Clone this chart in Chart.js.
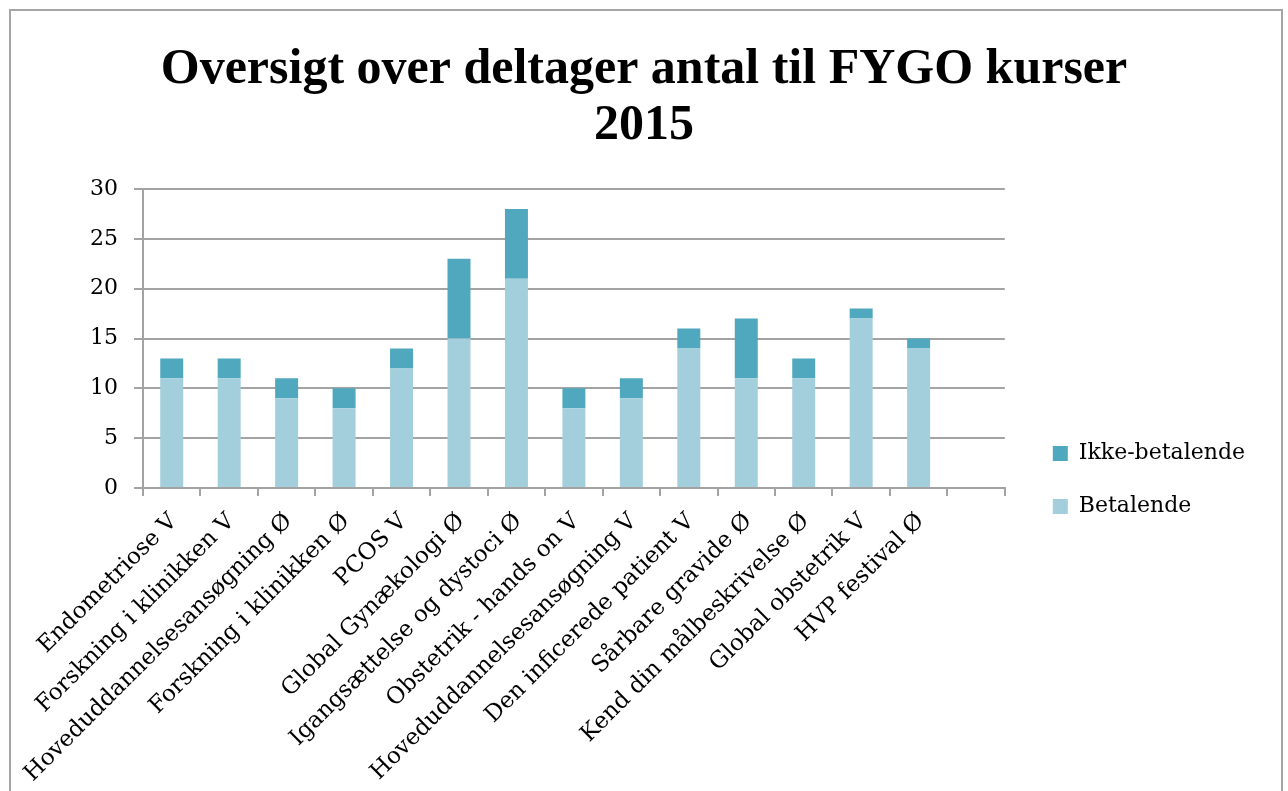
<!DOCTYPE html>
<html>
<head>
<meta charset="utf-8">
<script src="https://cdn.jsdelivr.net/npm/chart.js@4"></script>
<style>
  html, body { margin: 0; padding: 0; background: #fff; overflow: hidden; }
  #frame { position: absolute; left: 9px; top: 9px; width: 1270px; height: 940px; border: 2px solid #a6a6a6; }
  #wrap { position: absolute; left: 0; top: 0; width: 1288px; height: 960px; }
</style>
</head>
<body>
<div id="frame"></div>
<div id="wrap"><canvas id="c"></canvas></div>
<script>
// kursusnavne (sidste kategori er tom i originalen)
const courses = [
  'Endometriose V', 'Forskning i klinikken V', 'Hoveduddannelsesansøgning Ø',
  'Forskning i klinikken Ø', 'PCOS V', 'Global Gynækologi Ø',
  'Igangsættelse og dystoci Ø', 'Obstetrik - hands on V', 'Hoveduddannelsesansøgning V',
  'Den inficerede patient V', 'Sårbare gravide Ø', 'Kend din målbeskrivelse Ø',
  'Global obstetrik V', 'HVP festival Ø', ''
];
const betalende = [11, 11, 9, 8, 12, 15, 21, 8, 9, 14, 11, 11, 17, 14, null];
const ikkeBetalende = [2, 2, 2, 2, 2, 8, 7, 2, 2, 2, 6, 2, 1, 1, null];
const yTicks = [0, 5, 10, 15, 20, 25, 30];

const serif = "'DejaVu Serif', serif";
const titleFont = "'Liberation Serif', serif";
const gridGrey = '#a3a3a3';
const H = 960; // lærredet går under vinduets kant, ligesom i originalen

new Chart(document.getElementById('c'), {
  type: 'bar',
  data: {
    labels: courses,
    datasets: [
      {
        label: 'Betalende',
        data: betalende,
        backgroundColor: '#a3cedc',
        borderWidth: 0,
        barPercentage: 0.4,
        categoryPercentage: 1
      },
      {
        label: 'Ikke-betalende',
        data: ikkeBetalende,
        backgroundColor: '#50a8be',
        borderWidth: 0,
        barPercentage: 0.4,
        categoryPercentage: 1
      }
    ]
  },
  options: {
    responsive: true,
    maintainAspectRatio: false,
    animation: false,
    layout: { padding: { left: 33, right: 33, top: 0, bottom: 0 } },
    plugins: {
      title: {
        display: true,
        text: ['Oversigt over deltager antal til FYGO kurser', '2015'],
        color: '#000',
        font: { family: titleFont, size: 50, weight: 'bold', lineHeight: 1.12 },
        padding: { top: 42, bottom: 35 }
      },
      legend: {
        position: 'right',
        reverse: true,
        maxWidth: 320,
        labels: {
          color: '#000',
          boxWidth: 15,
          boxHeight: 15,
          padding: 31,
          font: { family: serif, size: 22 }
        }
      },
      tooltip: { enabled: false }
    },
    scales: {
      x: {
        stacked: true,
        afterFit: axis => { axis.height = H - 488; },
        grid: {
          offset: true,
          drawOnChartArea: false,
          drawTicks: true,
          tickLength: 8,
          color: gridGrey,
          lineWidth: 2
        },
        border: { color: gridGrey, width: 2 },
        ticks: {
          color: '#000',
          minRotation: 45,
          maxRotation: 45,
          autoSkip: false,
          padding: 12,
          labelOffset: 2,
          font: { family: serif, size: 23 }
        }
      },
      y: {
        stacked: true,
        min: 0,
        max: 30,
        afterFit: axis => { axis.width = 110; },
        afterBuildTicks: axis => { axis.ticks = yTicks.map(v => ({ value: v })); },
        grid: { color: gridGrey, lineWidth: 2, tickLength: 9 },
        border: { color: gridGrey, width: 2 },
        ticks: {
          color: '#000',
          padding: 16,
          font: { family: serif, size: 22 }
        }
      },
      // smal tom akse som afstand mellem plot og forklaring
      spacer: {
        position: 'right',
        display: true,
        afterFit: axis => { axis.width = 17; },
        grid: { display: false, drawTicks: false },
        border: { display: false },
        ticks: { display: false }
      }
    }
  }
});
</script>
</body>
</html>
